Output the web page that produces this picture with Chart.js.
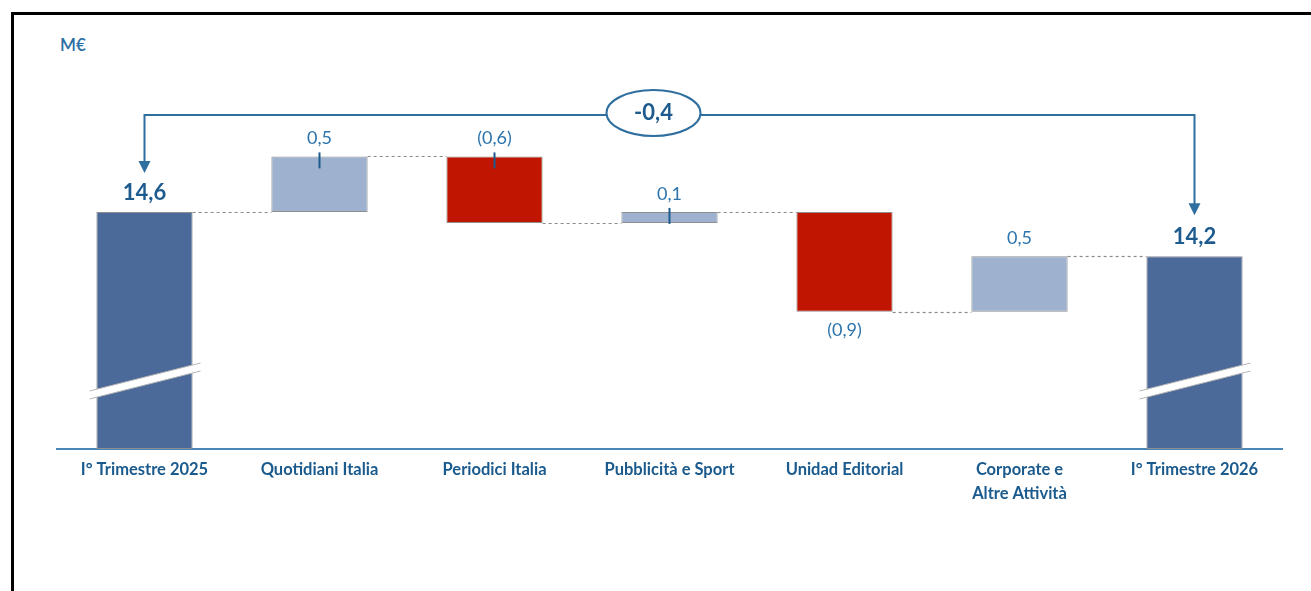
<!DOCTYPE html>
<html>
<head>
<meta charset="utf-8">
<script src="https://cdn.jsdelivr.net/npm/chart.js@4.4.1/dist/chart.umd.min.js"></script>
<style>
  html, body { margin: 0; padding: 0; background: #fff; overflow: hidden; }
  #frame { position: absolute; left: 11px; top: 12px; width: 1400px; height: 700px;
           border-left: 3px solid #000; border-top: 3px solid #000; }
  #wrap { position: absolute; left: 0; top: 0; width: 1311px; height: 591px; }
  #unit { position: absolute; left: 60px; top: 34px; font: 600 17px Lato, sans-serif; color: #2b6ea3; }
</style>
</head>
<body>
<div id="frame"></div>
<div id="unit">M€</div>
<div id="wrap"><canvas id="waterfall"></canvas></div>
<script>
const categories = [
  'I° Trimestre 2025',
  'Quotidiani Italia',
  'Periodici Italia',
  'Pubblicità e Sport',
  'Unidad Editorial',
  ['Corporate e', 'Altre Attività'],
  'I° Trimestre 2026',
];
const startValue = 14.6;
const deltas = [0.5, -0.6, 0.1, -0.9, 0.5];
const endValue = 14.2;
const totalChange = -0.4;
// the axis is broken, so it starts well above zero
const axisMin = 12.465;
const axisMax = 15.5;
// which delta bars get the little marker under their label
const markedBars = [false, true, true, true, false, false, false];

const BLUE_TEXT = '#1d5b8f';
const LINE_BLUE = '#2f6f9f';

// floating bars [low, high] and running levels
const ranges = [[axisMin, startValue]];
const levels = [startValue];
let running = startValue;
deltas.forEach((d) => {
  const next = Math.round((running + d) * 10) / 10;
  ranges.push([Math.min(running, next), Math.max(running, next)]);
  levels.push(next);
  running = next;
});
ranges.push([axisMin, endValue]);

const barValues = [startValue, ...deltas, endValue];
const barColors = barValues.map((v, i) => {
  if (i === 0 || i === barValues.length - 1) return '#4b6a9a';
  return v >= 0 ? '#9eb1cf' : '#c01500';
});

function fmt(v) {
  const s = Math.abs(v).toFixed(1).replace('.', ',');
  return v < 0 ? '(' + s + ')' : s;
}

const decorPlugin = {
  id: 'waterfallDecor',
  afterDatasetsDraw(chart) {
    const ctx = chart.ctx;
    const y = chart.scales.y;
    const bars = chart.getDatasetMeta(0).data;
    const last = bars.length - 1;
    const area = chart.chartArea;

    ctx.save();
    // dashed connectors
    ctx.strokeStyle = '#8a8a8a';
    ctx.lineWidth = 1.2;
    ctx.setLineDash([3, 3]);
    for (let i = 0; i < last; i++) {
      const lv = i < levels.length ? levels[i] : endValue;
      const py = Math.round(y.getPixelForValue(lv)) + 0.5;
      ctx.beginPath();
      ctx.moveTo(bars[i].x + bars[i].width / 2, py);
      ctx.lineTo(bars[i + 1].x - bars[i + 1].width / 2, py);
      ctx.stroke();
    }
    ctx.setLineDash([]);

    // axis break marks on the two total bars
    [0, last].forEach((i) => {
      const b = bars[i];
      const x1 = b.x - 55, x2 = b.x + 56;
      const y1 = area.bottom - 54, y2 = area.bottom - 82;
      ctx.beginPath();
      ctx.moveTo(x1, y1 - 4);
      ctx.lineTo(x2, y2 - 4);
      ctx.lineTo(x2, y2 + 4);
      ctx.lineTo(x1, y1 + 4);
      ctx.closePath();
      ctx.fillStyle = '#fff';
      ctx.fill();
      ctx.strokeStyle = '#b5b5b5';
      ctx.lineWidth = 1;
      ctx.beginPath();
      ctx.moveTo(x1, y1 - 4); ctx.lineTo(x2, y2 - 4);
      ctx.moveTo(x1, y1 + 4); ctx.lineTo(x2, y2 + 4);
      ctx.stroke();
    });

    // little markers
    ctx.strokeStyle = BLUE_TEXT;
    ctx.lineWidth = 2;
    bars.forEach((b, i) => {
      if (!markedBars[i]) return;
      const top = Math.min(b.y, b.base);
      ctx.beginPath();
      ctx.moveTo(b.x, top - 4);
      ctx.lineTo(b.x, top + 12);
      ctx.stroke();
    });

    // value labels
    ctx.textAlign = 'center';
    ctx.textBaseline = 'middle';
    bars.forEach((b, i) => {
      const v = barValues[i];
      const top = Math.min(b.y, b.base);
      const bottom = Math.max(b.y, b.base);
      if (i === 0 || i === last) {
        ctx.font = 'bold 22px Lato, sans-serif';
        ctx.fillStyle = BLUE_TEXT;
        ctx.fillText(fmt(v), b.x, top - 19);
      } else {
        ctx.font = '18px Lato, sans-serif';
        ctx.fillStyle = '#2b74ad';
        if (v < 0 && !markedBars[i]) ctx.fillText(fmt(v), b.x, bottom + 18);
        else ctx.fillText(fmt(v), b.x, top - 18);
      }
    });

    // bracket with arrows showing the total change
    const first = bars[0], end = bars[last];
    const by = area.top + 3;
    const tipL = first.y - 39, tipR = end.y - 41;
    ctx.strokeStyle = LINE_BLUE;
    ctx.fillStyle = LINE_BLUE;
    ctx.lineWidth = 2;
    ctx.beginPath();
    ctx.moveTo(first.x, tipL - 11);
    ctx.lineTo(first.x, by);
    ctx.lineTo(end.x, by);
    ctx.lineTo(end.x, tipR - 11);
    ctx.stroke();
    [[first.x, tipL], [end.x, tipR]].forEach(([ax, ay]) => {
      ctx.beginPath();
      ctx.moveTo(ax - 6, ay - 12);
      ctx.lineTo(ax + 6, ay - 12);
      ctx.lineTo(ax, ay);
      ctx.closePath();
      ctx.fill();
    });
    const ex = (first.x + end.x) / 2 - 16;
    ctx.beginPath();
    ctx.ellipse(ex, by - 2, 47, 23, 0, 0, Math.PI * 2);
    ctx.fillStyle = '#fff';
    ctx.fill();
    ctx.stroke();
    ctx.font = 'bold 22px Lato, sans-serif';
    ctx.fillStyle = BLUE_TEXT;
    ctx.fillText(totalChange.toFixed(1).replace('.', ','), ex, by - 2);
    ctx.restore();
  },
};

new Chart(document.getElementById('waterfall'), {
  type: 'bar',
  data: {
    labels: categories,
    datasets: [
      {
        data: ranges,
        backgroundColor: barColors,
        borderColor: '#8f8f8f',
        borderWidth: 1,
        borderSkipped: false,
        barPercentage: 0.55,
        categoryPercentage: 1,
      },
    ],
  },
  options: {
    responsive: true,
    maintainAspectRatio: false,
    animation: false,
    layout: { padding: { left: 57, right: 29, top: 112, bottom: 0 } },
    plugins: {
      legend: { display: false },
      tooltip: { enabled: false },
    },
    scales: {
      x: {
        grid: { display: false, drawTicks: false },
        border: { display: true, color: '#4a86b8', width: 2 },
        ticks: {
          color: '#1a5a8d',
          font: { family: 'Lato, sans-serif', size: 16.5, weight: 'bold', lineHeight: 1.5 },
          padding: 8,
          maxRotation: 0,
          autoSkip: false,
        },
        afterFit(scale) {
          scale.height = 142;
        },
      },
      y: {
        display: false,
        min: axisMin,
        max: axisMax,
      },
    },
  },
  plugins: [decorPlugin],
});
</script>
</body>
</html>
